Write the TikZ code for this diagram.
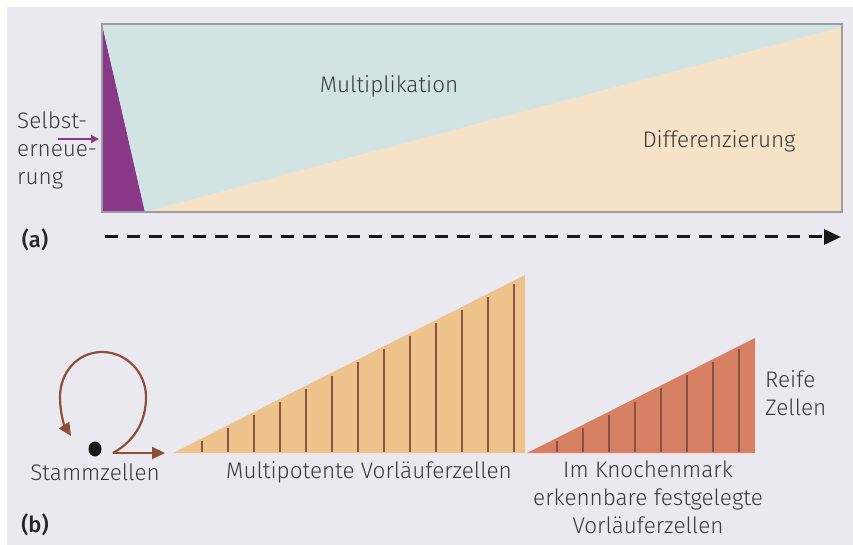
\documentclass[tikz,border=0pt]{standalone}
\usepackage{fontspec}
\setmainfont{Fira Sans}[UprightFont=* Light, BoldFont=* Medium]
\usetikzlibrary{arrows.meta}
\definecolor{panelbg}{HTML}{EBE9F0}
\definecolor{multcol}{HTML}{D1E4E3}
\definecolor{diffcol}{HTML}{F6E2C6}
\definecolor{selfcol}{HTML}{883887}
\definecolor{framecol}{HTML}{9C9CA6}
\definecolor{progcol}{HTML}{EDC28B}
\definecolor{comcol}{HTML}{D88063}
\definecolor{tickcol}{HTML}{875443}
\definecolor{loopcol}{HTML}{8E4F39}
\definecolor{txtcol}{HTML}{3A3A3C}
\tikzset{
  lbl/.style={text=txtcol, font=\fontsize{22.5}{28}\selectfont, inner sep=0pt},
  panellbl/.style={text=black!85, font=\fontsize{22}{28}\selectfont\bfseries, inner sep=0pt},
  tick/.style={draw=tickcol, line width=1.6pt},
  loopline/.style={draw=loopcol, line width=2.2pt, -{Triangle[length=13pt,width=12pt]}},
}
\begin{document}
\begin{tikzpicture}[x=1pt,y=-1pt]
  \useasboundingbox (0,0) rectangle (853,545);
  \fill[white] (0,0) rectangle (853,545);
  \fill[panelbg] (7,7) rectangle (853,545);

  % (a) proportions of self-renewal, multiplication and differentiation
  \coordinate (tl) at (102,24);
  \coordinate (tr) at (842,24);
  \coordinate (bl) at (102,212);
  \coordinate (br) at (842,212);
  \coordinate (sr) at (145,212);
  \coordinate (dr) at (842,27);
  \fill[selfcol] (tl) -- (bl) -- (sr) -- cycle;
  \fill[multcol] (tl) -- (tr) -- (dr) -- (sr) -- cycle;
  \fill[diffcol] (sr) -- (dr) -- (br) -- cycle;
  \draw[framecol, line width=1.3pt] (tl) rectangle (br);

  \node[lbl] (mult) at (389,86) {Multiplikation};
  \node[lbl] (diff) at (719,141) {Differenzierung};
  \node[lbl, align=left, anchor=west] (self) at (17,150) {Selbst-\\erneue-\\rung};
  \coordinate (selfend) at (99,139);
  \draw[selfcol, line width=1.3pt, -{Triangle[length=8pt,width=8pt]}] (58,139) -- (selfend);

  \node[panellbl] (pa) at (35,240) {(a)};
  \coordinate (ts) at (105,237);
  \coordinate (te) at (841,237);
  \draw[black!90, line width=3pt, dash pattern=on 13pt off 9pt,
        -{Triangle[length=17pt,width=15pt]}] (ts) -- (te);

  % (b) stem cells and progenitor stages
  \fill[black!90] (95,449) ellipse (6.5pt and 7.5pt);
  \node[inner sep=0pt, minimum size=14pt] (stem) at (95,449) {};
  \coordinate (lp) at (113,453);
  \coordinate (lpend) at (71,436);
  \coordinate (out) at (165,453);
  \draw[loopline] (lp) .. controls (136,440) and (146,420) .. (146,397)
        .. controls (146,372) and (126,352) .. (102,352)
        .. controls (78,352) and (60,372) .. (60,397)
        .. controls (60,412) and (64,425) .. (lpend);
  \draw[loopline] (lp) -- (out);

  \coordinate (pa1) at (173,453);
  \coordinate (pa2) at (525,453);
  \coordinate (pa3) at (525,275);
  \fill[progcol] (pa1) -- (pa2) -- (pa3) -- cycle;
  \foreach \i in {0,...,12} {
    \pgfmathsetmacro{\xx}{202+26*\i}
    \pgfmathsetmacro{\yy}{453-(\xx-173)/352*178+3}
    \draw[tick] (\xx,451.5) -- (\xx,\yy);
  }

  \coordinate (cm1) at (527,453);
  \coordinate (cm2) at (755,453);
  \coordinate (cm3) at (755,338);
  \fill[comcol] (cm1) -- (cm2) -- (cm3) -- cycle;
  \foreach \i in {0,...,7} {
    \pgfmathsetmacro{\xx}{557+26*\i}
    \pgfmathsetmacro{\yy}{453-(\xx-527)/228*115+3}
    \draw[tick] (\xx,451.5) -- (\xx,\yy);
  }

  \node[lbl] (stemlbl) at (95,472) {Stammzellen};
  \node[lbl] (proglbl) at (369,472) {Multipotente Vorläuferzellen};
  \node[lbl, align=center, anchor=north] (comlbl) at (648,461) {Im Knochenmark\\erkennbare festgelegte\\Vorläuferzellen};
  \node[lbl, align=left, anchor=west] (mature) at (765,393) {Reife\\Zellen};
  \node[panellbl] (pb) at (35,525) {(b)};
\end{tikzpicture}
\end{document}
